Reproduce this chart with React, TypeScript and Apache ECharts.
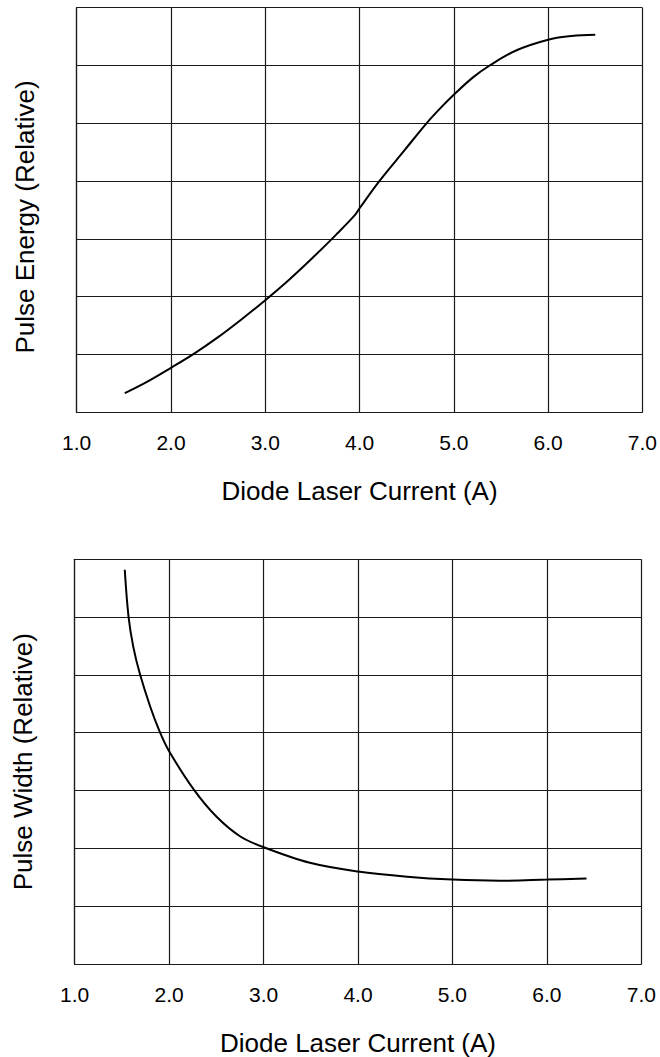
import React, { useEffect, useRef } from "react";
import * as echarts from "echarts";

const xTicks = [1, 2, 3, 4, 5, 6, 7];
const xTitle = "Diode Laser Current (A)";
const energyTitle = "Pulse Energy (Relative)";
const widthTitle = "Pulse Width (Relative)";

const energyX = [1.51, 1.75, 2.0, 2.25, 2.5, 2.75, 3.0, 3.25, 3.5, 3.75, 3.95, 4.0, 4.21, 4.48, 4.71, 4.85, 5.01, 5.2, 5.38, 5.66, 6.01, 6.25, 6.5];
const energyY = [0.33, 0.53, 0.77, 1.02, 1.3, 1.61, 1.94, 2.29, 2.67, 3.07, 3.41, 3.53, 4.0, 4.54, 5.0, 5.25, 5.51, 5.79, 6.0, 6.26, 6.45, 6.51, 6.53];

const widthX = [1.53, 1.57, 1.62, 1.69, 1.8, 1.9, 2.0, 2.26, 2.5, 2.75, 3.0, 3.49, 4.0, 4.52, 5.0, 5.5, 6.0, 6.42];
const widthY = [6.82, 6.01, 5.49, 5.02, 4.45, 4.02, 3.68, 3.02, 2.55, 2.21, 2.02, 1.75, 1.6, 1.51, 1.46, 1.44, 1.46, 1.48];

const FONT = "'Liberation Sans', Arial, Helvetica, sans-serif";
const GRIDC = "#1a1a1a";

export default function App() {
  const ref = useRef<HTMLDivElement>(null);
  useEffect(() => {
    if (!ref.current) return;
    const chart = echarts.init(ref.current, undefined, { renderer: "svg" });
    const xAxisBase = (gridIndex: number) => ({
      type: "value",
      gridIndex,
      min: xTicks[0],
      max: xTicks[xTicks.length - 1],
      interval: 1,
      name: xTitle,
      nameLocation: "middle",
      nameGap: 66,
      nameTextStyle: { fontFamily: FONT, fontSize: 26, color: "#000" },
      axisLine: { show: true, lineStyle: { color: GRIDC, width: 1.2 } },
      axisTick: { show: false },
      axisLabel: {
        fontFamily: FONT,
        fontSize: 21,
        color: "#000",
        margin: 20,
        formatter: (v: number) => v.toFixed(1),
      },
      splitLine: { show: true, lineStyle: { color: GRIDC, width: 1.2 } },
    });
    const yAxisBase = (gridIndex: number, name: string, pad: number[]) => ({
      type: "value",
      gridIndex,
      min: 0,
      max: 7,
      interval: 1,
      name,
      nameLocation: "middle",
      nameGap: 39,
      nameTextStyle: { fontFamily: FONT, fontSize: 26, color: "#000", padding: pad },
      axisLine: { show: true, lineStyle: { color: GRIDC, width: 1.2 } },
      axisTick: { show: false },
      axisLabel: { show: false },
      splitLine: { show: true, lineStyle: { color: GRIDC, width: 1.2 } },
    });
    const lineSeries = (idx: number, xs: number[], ys: number[]) => ({
      type: "line",
      xAxisIndex: idx,
      yAxisIndex: idx,
      data: xs.map((x, i) => [x, ys[i]]),
      smooth: 0.35,
      showSymbol: false,
      lineStyle: { color: "#000", width: 2 },
    });
    chart.setOption({
      animation: false,
      backgroundColor: "#fff",
      grid: [
        { left: 76.7, top: 7.7, width: 566.6, height: 404.6 },
        { left: 74.7, top: 559.3, width: 566.6, height: 405 },
      ],
      xAxis: [xAxisBase(0), xAxisBase(1)],
      yAxis: [yAxisBase(0, energyTitle, [0, 14, 0, 0]), yAxisBase(1, widthTitle, [0, 0, 0, 0])],
      series: [lineSeries(0, energyX, energyY), lineSeries(1, widthX, widthY)],
    });
    return () => chart.dispose();
  }, []);
  return (
    <div
      ref={ref}
      style={{ position: "fixed", left: 0, top: 0, width: 660, height: 1057, background: "#fff" }}
    />
  );
}
